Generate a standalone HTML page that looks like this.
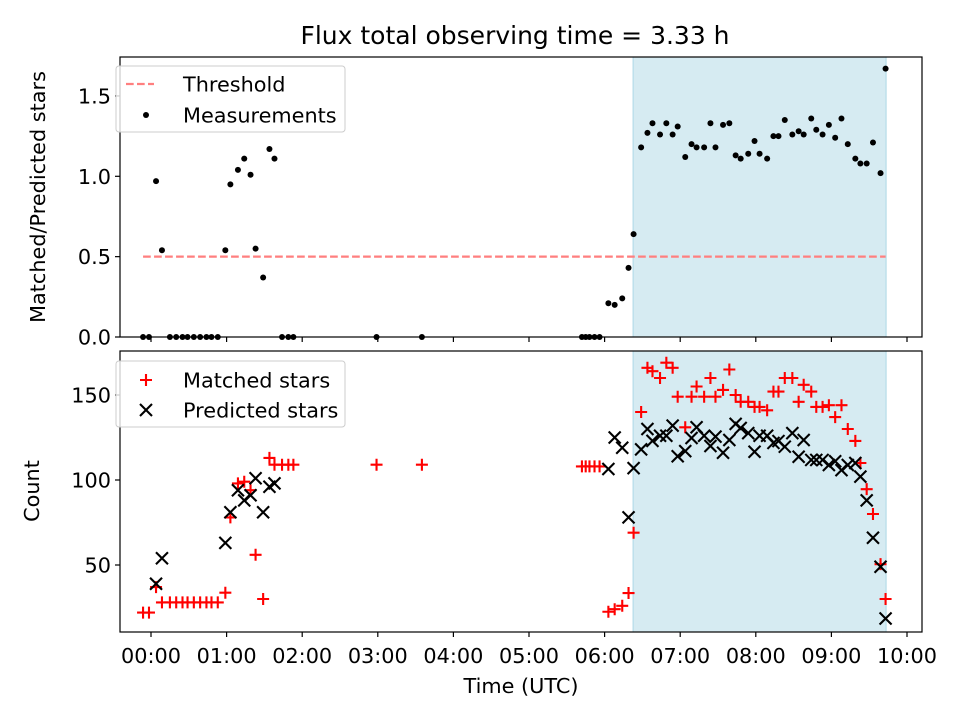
<!DOCTYPE html>
<html><head><meta charset="utf-8"><style>
body{margin:0;background:#fff}
svg{display:block;font-family:"DejaVu Sans","Liberation Sans",sans-serif}
</style></head><body>
<svg id="c" width="960" height="720"></svg>
<script>
const topTimes=[-6.3,-1.6,4,8.7,15,20,25,29,34,39,44,48,53,59,63,69,74,79,83,89,94,98,104,109,113,179,215,342,345,348,352,356,363,368,374,379,383,389,394,398,404,409,414,418,424,429,433,439,444,448,454,459,464,468,474,479,483,489,494,498,503,509,514,518,524,528,533,538,543,548,553,559,563,568,573,579,583];
const ratioValues=[0,0,0.97,0.54,0,0,0,0,0,0,0,0,0,0.54,0.95,1.04,1.11,1.01,0.55,0.37,1.17,1.11,0,0,0,0,0,0,0,0,0,0,0.21,0.20,0.24,0.43,0.64,1.18,1.27,1.33,1.26,1.33,1.26,1.31,1.12,1.20,1.18,1.18,1.33,1.18,1.32,1.33,1.13,1.11,1.14,1.22,1.14,1.11,1.25,1.25,1.35,1.26,1.28,1.26,1.36,1.29,1.26,1.32,1.24,1.36,1.20,1.11,1.08,1.08,1.21,1.02,1.67];
const matchedTimes=[-6.3,-1.6,4,8.7,15,20,25,29,34,39,44,48,53,59,63,69,74,79,83,89,94,98,104,109,113,179,215,342,345,348,352,356,363,368,374,379,383,389,394,398,404,409,414,418,424,429,433,439,444,448,454,459,464,468,474,479,483,489,494,498,503,509,514,518,524,528,533,538,543,548,553,559,563,568,573,579,583];
const matchedValues=[22,22,37,28,28,28,28,28,28,28,28,28,28,33.7,78,98,99,94,56,30,113,109,109,109,109,109,109,108,108,108,108,108,22.5,24,26,33.5,69,140,166,164,160,169,166,149,131,149,155,149,160,149,153,165,150,146,146,143,143,141,152,152,160,160,146,156,152,143,143,144,137,144,130,123,110,94.6,80,50.5,30];
const predTimes=[4,8.7,59,63,69,74,79,83,89,94,98,363,368,374,379,383,389,394,398,404,409,414,418,424,429,433,439,444,448,454,459,464,468,474,479,483,489,494,498,503,509,514,518,524,528,533,538,543,548,553,559,563,568,573,579,583];
const predValues=[39,54,63,81,94,88,91,101,81,96,98,106.5,125,119,78,107,118,130,123,126,126,132,114,117,124.7,131,126,120,125.5,116,123.5,133,130.6,127.6,116.6,126,126,121.8,122.9,119.6,127.6,113.7,123.5,111.8,111.8,111.8,108.8,111,105.8,108.8,110,102,88,66,49,18.5];
const xTickLabels=["00:00","01:00","02:00","03:00","04:00","05:00","06:00","07:00","08:00","09:00","10:00"];
const topTicks=["0.0","0.5","1.0","1.5"];
const botTicks=["50","100","150"];
const threshold=0.5, spanStart=382.6, spanEnd=583.4;

const NS="http://www.w3.org/2000/svg", svg=document.getElementById('c');
function el(t,a,p){const e=document.createElementNS(NS,t);for(const k in a)e.setAttribute(k,a[k]);(p||svg).appendChild(e);return e;}
const L=120,R=922;
const X=m=>151+(m/60)*75.6;
const YT=v=>337-v*160.7;
const YB=v=>565-(v-50)*1.7;
const FS=20.8;
function txt(s,x,y,o,name){const t=el('text',Object.assign({x:x,y:y,'font-size':FS,fill:'#000'},o||{}));t.textContent=s;return t;}

txt("Flux total observing time = 3.33 h",515,44,{'font-size':25,'text-anchor':'middle'},'chart-title');

function panel(y0,y1,name){
  const g=el('g',{});
  const s=el('rect',{x:X(spanStart),y:y0,width:X(spanEnd)-X(spanStart),height:y1-y0,fill:'#add8e6','fill-opacity':0.5,stroke:'#add8e6'},g);
  
  return g;
}
const gt=panel(57,337,'top-panel');
const gb=panel(351,632,'bottom-panel');

const th=el('line',{x1:X(-6.3),x2:X(583),y1:YT(threshold),y2:YT(threshold),stroke:'#ff7f7f','stroke-width':2.2,'stroke-dasharray':'7.7,3.3'},gt);


topTimes.forEach((m,i)=>{const c=el('circle',{cx:X(m),cy:YT(ratioValues[i]),r:3,fill:'#000'},gt);

});

function plus(x,y,g){const p=el('path',{d:`M${x-6},${y}h12M${x},${y-6}v12`,stroke:'#f00','stroke-width':2.1,fill:'none'},g);

}
function cross(x,y,g){const p=el('path',{d:`M${x-6},${y-6}l12,12M${x-6},${y+6}l12,-12`,stroke:'#000','stroke-width':2.1,fill:'none'},g);

}
matchedTimes.forEach((m,i)=>plus(X(m),YB(matchedValues[i]),gb));
predTimes.forEach((m,i)=>cross(X(m),YB(predValues[i]),gb));

function frame(y0,y1,g){el('rect',{x:L,y:y0,width:R-L,height:y1-y0,fill:'none',stroke:'#000','stroke-width':1.2},g);
  xTickLabels.forEach((s,i)=>{el('line',{x1:X(i*60),x2:X(i*60),y1:y1,y2:y1+5,stroke:'#000','stroke-width':1.2},g);});}
frame(57,337,gt);frame(351,632,gb);
xTickLabels.forEach((s,i)=>txt(s,X(i*60),663,{'text-anchor':'middle'},'x-tick-label'));
topTicks.forEach(s=>{const y=YT(parseFloat(s));el('line',{x1:L-5,x2:L,y1:y,y2:y,stroke:'#000','stroke-width':1.2},gt);txt(s,L-9,y+7.5,{'text-anchor':'end'},'top-y-tick-label');});
botTicks.forEach(s=>{const y=YB(parseFloat(s));el('line',{x1:L-5,x2:L,y1:y,y2:y,stroke:'#000','stroke-width':1.2},gb);txt(s,L-9,y+7.5,{'text-anchor':'end'},'bottom-y-tick-label');});
txt("Time (UTC)",521,693,{'text-anchor':'middle'},'x-axis-title');
txt("Matched/Predicted stars",45,197,{'text-anchor':'middle',transform:'rotate(-90 45 197)'},'top-y-axis-title');
txt("Count",39,491,{'text-anchor':'middle',transform:'rotate(-90 39 491)'},'bottom-y-axis-title');

function legend(y,name){const r=el('rect',{x:116,y:y,width:229,height:66,rx:3,fill:'#fff','fill-opacity':0.8,stroke:'#ccc'});}
legend(66,'top-legend');
el('line',{x1:126,x2:154,y1:84,y2:84,stroke:'#ff7f7f','stroke-width':2.2,'stroke-dasharray':'7.7,3.3'});
txt("Threshold",183,91.5,{},'legend-threshold');
el('circle',{cx:146,cy:115,r:3,fill:'#000'});
txt("Measurements",183,122.5,{},'legend-measurements');
legend(361,'bottom-legend');
plus(146,380,svg);txt("Matched stars",183,387.5,{},'legend-matched');
cross(146,410,svg);txt("Predicted stars",183,417.5,{},'legend-predicted');
</script>
</body></html>
